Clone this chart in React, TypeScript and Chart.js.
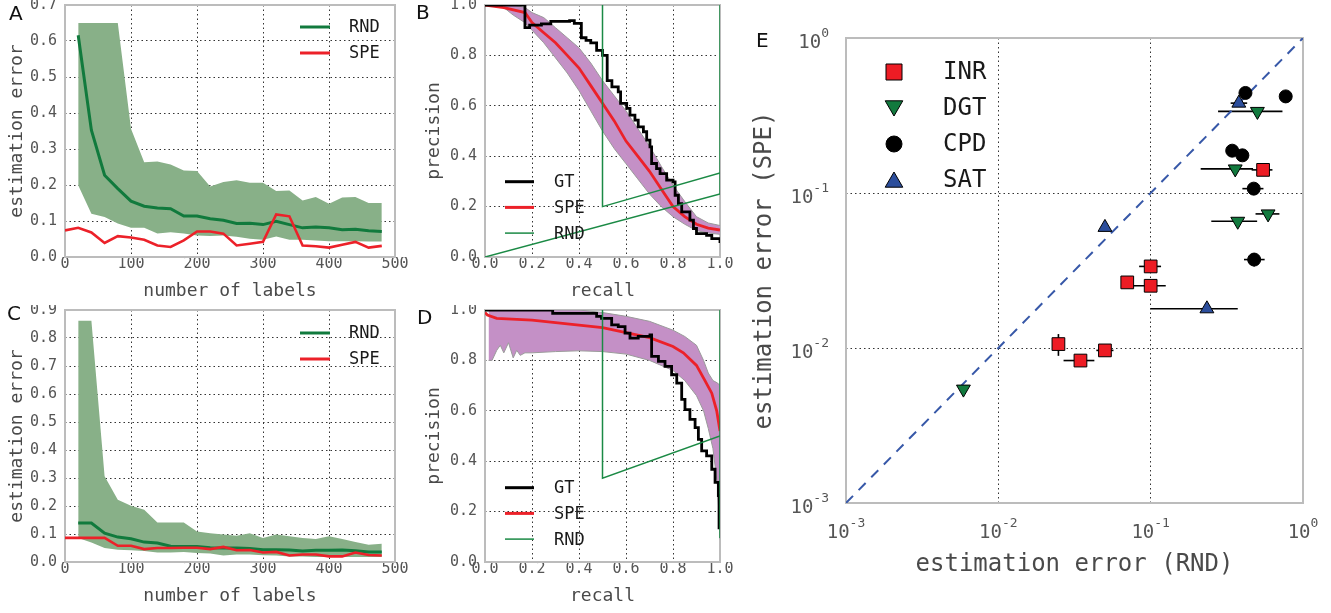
import React, { useEffect, useRef } from 'react';
import { Chart, registerables } from 'chart.js';

Chart.register(...registerables);

const MONO = '"DejaVu Sans Mono", "Liberation Mono", monospace';
const SANS = '"DejaVu Sans", "Open Sans", sans-serif';

const TICK_COLOR = '#555555';
const TITLE_COLOR = '#4a4a4a';
const GRID_COLOR = '#333333';
const FRAME_COLOR = '#bcbcbc';
const GREEN = '#117a3d';
const GREEN_BAND = '#88b088';
const RED = '#ec2129';
const PURPLE_BAND = '#c490c6';
const BAND_EDGE = '#9a9a9a';
const RND_THIN = '#1b8a45';
const MARK_RED = '#ed1c24';
const MARK_GREEN = '#127a3e';
const MARK_BLACK = '#000000';
const MARK_BLUE = '#2c4e9c';
const DIAG_BLUE = '#3758a8';

// ---------------- Panels A / C : estimation error vs number of labels ----------------
const N_X = [20, 40, 60, 80, 100, 120, 140, 160, 180, 200, 220, 240, 260, 280, 300, 320, 340, 360, 380, 400, 420, 440, 460, 480];
const N_X_SPE = [0, 20, 40, 60, 80, 100, 120, 140, 160, 180, 200, 220, 240, 260, 280, 300, 320, 340, 360, 380, 400, 420, 440, 460, 480];

const A_RND = [0.616, 0.352, 0.227, 0.19, 0.155, 0.141, 0.136, 0.134, 0.114, 0.114, 0.106, 0.102, 0.093, 0.094, 0.09, 0.099, 0.09, 0.081, 0.083, 0.081, 0.076, 0.077, 0.073, 0.071];
const A_RND_HI = [0.65, 0.65, 0.65, 0.65, 0.356, 0.263, 0.265, 0.257, 0.24, 0.239, 0.196, 0.208, 0.213, 0.206, 0.206, 0.183, 0.185, 0.157, 0.167, 0.148, 0.165, 0.167, 0.15, 0.15];
const A_RND_LO = [0.199, 0.12, 0.111, 0.093, 0.081, 0.081, 0.065, 0.069, 0.065, 0.06, 0.058, 0.06, 0.056, 0.051, 0.048, 0.057, 0.048, 0.048, 0.046, 0.044, 0.044, 0.044, 0.043, 0.043];
const A_SPE = [0.074, 0.081, 0.068, 0.039, 0.058, 0.054, 0.048, 0.032, 0.028, 0.046, 0.071, 0.071, 0.065, 0.032, 0.037, 0.042, 0.118, 0.113, 0.032, 0.03, 0.026, 0.034, 0.042, 0.026, 0.031];

const C_RND = [0.139, 0.139, 0.103, 0.089, 0.083, 0.071, 0.068, 0.056, 0.055, 0.055, 0.051, 0.05, 0.05, 0.048, 0.044, 0.044, 0.043, 0.039, 0.042, 0.042, 0.043, 0.04, 0.036, 0.036];
const C_RND_HI = [0.862, 0.862, 0.306, 0.222, 0.201, 0.187, 0.141, 0.141, 0.141, 0.109, 0.103, 0.098, 0.094, 0.103, 0.086, 0.098, 0.092, 0.086, 0.082, 0.092, 0.082, 0.071, 0.062, 0.065];
const C_RND_LO = [0.086, 0.07, 0.05, 0.044, 0.042, 0.039, 0.034, 0.034, 0.036, 0.032, 0.03, 0.023, 0.027, 0.027, 0.024, 0.023, 0.02, 0.02, 0.018, 0.018, 0.018, 0.018, 0.018, 0.018];
const C_SPE = [0.086, 0.086, 0.086, 0.086, 0.058, 0.058, 0.046, 0.05, 0.05, 0.051, 0.051, 0.046, 0.054, 0.042, 0.043, 0.034, 0.036, 0.023, 0.027, 0.027, 0.02, 0.02, 0.034, 0.025, 0.023];

// ---------------- Panel B : precision / recall ----------------
const B_GT_R = [0, 0.17, 0.19, 0.24, 0.28, 0.36, 0.38, 0.41, 0.41, 0.43, 0.45, 0.475, 0.5, 0.52, 0.52, 0.54, 0.567, 0.577, 0.603, 0.617, 0.638, 0.652, 0.674, 0.688, 0.702, 0.709, 0.73, 0.745, 0.773, 0.8, 0.809, 0.823, 0.837, 0.872, 0.887, 0.9, 0.943, 0.965, 1.0];
const B_GT_P = [1.0, 0.91, 0.92, 0.925, 0.935, 0.938, 0.927, 0.9, 0.87, 0.86, 0.85, 0.82, 0.8, 0.8, 0.7, 0.675, 0.655, 0.61, 0.59, 0.563, 0.543, 0.516, 0.497, 0.464, 0.437, 0.371, 0.351, 0.331, 0.305, 0.298, 0.245, 0.212, 0.179, 0.146, 0.113, 0.093, 0.086, 0.073, 0.056];
const B_SPE_R = [0, 0.08, 0.17, 0.2, 0.25, 0.3, 0.35, 0.4, 0.45, 0.5, 0.55, 0.6, 0.65, 0.7, 0.75, 0.8, 0.85, 0.9, 0.95, 1.0];
const B_SPE_P = [1.0, 0.99, 0.97, 0.93, 0.89, 0.85, 0.8, 0.75, 0.68, 0.61, 0.54, 0.46, 0.4, 0.34, 0.27, 0.2, 0.16, 0.13, 0.115, 0.107];
const B_BAND_R = [0.08, 0.12, 0.17, 0.2, 0.25, 0.3, 0.35, 0.4, 0.45, 0.5, 0.55, 0.6, 0.65, 0.7, 0.75, 0.8, 0.85, 0.9, 0.95, 1.0];
const B_BAND_HI = [1.0, 1.0, 0.99, 0.97, 0.95, 0.91, 0.87, 0.83, 0.77, 0.7, 0.64, 0.58, 0.51, 0.44, 0.36, 0.285, 0.22, 0.16, 0.135, 0.125];
const B_BAND_LO = [0.99, 0.96, 0.93, 0.9, 0.85, 0.79, 0.73, 0.66, 0.58, 0.5, 0.43, 0.37, 0.31, 0.25, 0.2, 0.16, 0.13, 0.105, 0.095, 0.09];
const B_RND1_R = [0, 1.0];
const B_RND1_P = [0, 0.25];
const B_RND2_R = [0.5, 0.5, 1.0];
const B_RND2_P = [1.0, 0.2, 0.333];
const B_RND3_R = [1.0, 1.0];
const B_RND3_P = [1.0, 0.25];

// ---------------- Panel D : precision / recall ----------------
const D_GT_R = [0, 0.288, 0.475, 0.496, 0.525, 0.539, 0.567, 0.596, 0.617, 0.652, 0.702, 0.709, 0.738, 0.766, 0.794, 0.816, 0.837, 0.851, 0.872, 0.894, 0.908, 0.922, 0.943, 0.965, 0.979, 0.993, 0.996, 0.996];
const D_GT_P = [1.0, 0.987, 0.975, 0.967, 0.967, 0.941, 0.934, 0.908, 0.888, 0.895, 0.901, 0.816, 0.796, 0.776, 0.743, 0.71, 0.645, 0.605, 0.566, 0.533, 0.487, 0.441, 0.421, 0.368, 0.316, 0.263, 0.145, 0.13];
const D_SPE_R = [0, 0.01, 0.05, 0.2, 0.4, 0.5, 0.6, 0.7, 0.8, 0.844, 0.9, 0.936, 0.965, 0.986, 1.0];
const D_SPE_P = [0.99, 0.98, 0.967, 0.96, 0.94, 0.93, 0.91, 0.89, 0.855, 0.83, 0.78, 0.72, 0.67, 0.6, 0.52];
const D_BAND_R = [0.015, 0.03, 0.05, 0.065, 0.08, 0.1, 0.12, 0.135, 0.15, 0.17, 0.2, 0.3, 0.4, 0.5, 0.6, 0.7, 0.8, 0.85, 0.9, 0.93, 0.95, 0.97, 0.99, 1.0];
const D_BAND_HI = [1.0, 1.0, 1.0, 1.0, 1.0, 1.0, 1.0, 1.0, 1.0, 1.0, 1.0, 1.0, 1.0, 0.99, 0.975, 0.955, 0.92, 0.895, 0.86, 0.8, 0.75, 0.72, 0.71, 0.7];
const D_BAND_LO = [0.8, 0.8, 0.84, 0.86, 0.83, 0.87, 0.81, 0.84, 0.82, 0.83, 0.83, 0.835, 0.838, 0.835, 0.825, 0.8, 0.76, 0.72, 0.66, 0.6, 0.53, 0.45, 0.3, 0.09];
const D_RND1_R = [0.5, 0.5, 1.0];
const D_RND1_P = [1.0, 0.333, 0.5];
const D_RND2_R = [1.0, 1.0];
const D_RND2_P = [1.0, 0.095];

// ---------------- Panel E : estimation error SPE vs RND ----------------
const E_TICKS = [0.001, 0.01, 0.1, 1];
const E_TICK_BASE = ['10', '10', '10', '10'];
const E_TICK_EXP = ['-3', '-2', '-1', '0'];

const INR_X = [0.547, 0.1, 0.0702, 0.1, 0.0248, 0.0346, 0.0501];
const INR_Y = [0.141, 0.0336, 0.0265, 0.0252, 0.0106, 0.0083, 0.00965];
const INR_XLO = [0.46, 0.084, null, 0.0756, null, 0.0268, 0.044];
const INR_XHI = [0.63, 0.117, null, 0.1256, null, 0.0427, 0.057];
const INR_YLO = [null, 0.0312, null, null, 0.0089, null, null];
const INR_YHI = [null, 0.0362, null, null, 0.0123, null, null];

const DGT_X = [0.502, 0.359, 0.59, 0.373, 0.0059];
const DGT_Y = [0.336, 0.143, 0.0733, 0.0657, 0.00543];
const DGT_XLO = [0.277, 0.213, 0.488, 0.25, null];
const DGT_XHI = [0.733, 0.47, 0.7, 0.5, null];

const CPD_X = [0.419, 0.77, 0.343, 0.4, 0.475, 0.478];
const CPD_Y = [0.442, 0.42, 0.1875, 0.175, 0.1067, 0.0372];
const CPD_XLO = [null, null, null, null, 0.4, 0.41];
const CPD_XHI = [null, null, null, null, 0.55, 0.56];
const CPD_YLO = [null, null, null, null, null, 0.0336];
const CPD_YHI = [null, null, null, null, null, 0.041];

const SAT_X = [0.379, 0.0501, 0.234];
const SAT_Y = [0.38, 0.06, 0.0179];
const SAT_XLO = [0.335, null, 0.1];
const SAT_XHI = [0.43, null, 0.373];

const DIAG_X = [0.001, 1];
const DIAG_Y = [0.001, 1];

// ---------------- helpers ----------------
const pts = (xs: number[], ys: number[]) => xs.map((x, i) => ({ x, y: ys[i] }));

const framePlugin = {
  id: 'frame',
  beforeDatasetsDraw(chart: any) {
    const { ctx, chartArea: a } = chart;
    ctx.save();
    ctx.strokeStyle = FRAME_COLOR;
    ctx.lineWidth = 2;
    ctx.strokeRect(a.left, a.top, a.right - a.left, a.bottom - a.top);
    ctx.restore();
  },
};

const errorBarPlugin = {
  id: 'errorBars',
  beforeDatasetsDraw(chart: any) {
    const { ctx } = chart;
    const xs = chart.scales.x;
    const ys = chart.scales.y;
    ctx.save();
    ctx.strokeStyle = '#000';
    ctx.lineWidth = 1.6;
    chart.data.datasets.forEach((ds: any) => {
      (ds.data as any[]).forEach((p: any, i: number) => {
        const px = xs.getPixelForValue(p.x);
        const py = ys.getPixelForValue(p.y);
        if (ds.xLo && ds.xLo[i] != null) {
          ctx.beginPath();
          ctx.moveTo(xs.getPixelForValue(ds.xLo[i]), py);
          ctx.lineTo(xs.getPixelForValue(ds.xHi[i]), py);
          ctx.stroke();
        }
        if (ds.yLo && ds.yLo[i] != null) {
          ctx.beginPath();
          ctx.moveTo(px, ys.getPixelForValue(ds.yLo[i]));
          ctx.lineTo(px, ys.getPixelForValue(ds.yHi[i]));
          ctx.stroke();
        }
      });
    });
    ctx.restore();
  },
};

// draws "10" with a raised exponent for the log axes of panel E
const supTickPlugin = {
  id: 'supTicks',
  afterDraw(chart: any) {
    const { ctx, chartArea: a } = chart;
    const xs = chart.scales.x;
    const ys = chart.scales.y;
    const baseFont = `19px ${MONO}`;
    const expFont = `13px ${MONO}`;
    ctx.save();
    ctx.fillStyle = TICK_COLOR;
    ctx.textBaseline = 'alphabetic';
    ctx.textAlign = 'left';
    E_TICKS.forEach((v, i) => {
      ctx.font = baseFont;
      const bw = ctx.measureText(E_TICK_BASE[i]).width;
      ctx.font = expFont;
      const ew = ctx.measureText(E_TICK_EXP[i]).width;
      // x axis
      const px = xs.getPixelForValue(v);
      const x0 = px - (bw + ew) / 2;
      ctx.font = baseFont;
      ctx.fillText(E_TICK_BASE[i], x0, a.bottom + 35);
      ctx.font = expFont;
      ctx.fillText(E_TICK_EXP[i], x0 + bw, a.bottom + 24);
      // y axis
      const py = ys.getPixelForValue(v);
      const xr = a.left - 17;
      ctx.font = expFont;
      ctx.fillText(E_TICK_EXP[i], xr - ew, py - 1);
      ctx.font = baseFont;
      ctx.fillText(E_TICK_BASE[i], xr - ew - bw, py + 10);
    });
    ctx.restore();
  },
};

function drawMarker(ctx: CanvasRenderingContext2D, kind: string, x: number, y: number, color: string, s: number) {
  ctx.save();
  ctx.fillStyle = color;
  ctx.strokeStyle = '#000';
  ctx.lineWidth = 1;
  ctx.beginPath();
  if (kind === 'square') {
    ctx.rect(x - s / 2, y - s / 2, s, s);
  } else if (kind === 'circle') {
    ctx.arc(x, y, s / 2, 0, Math.PI * 2);
  } else if (kind === 'tridown') {
    ctx.moveTo(x - s * 0.55, y - s * 0.45);
    ctx.lineTo(x + s * 0.55, y - s * 0.45);
    ctx.lineTo(x, y + s * 0.5);
    ctx.closePath();
  } else {
    ctx.moveTo(x - s * 0.55, y + s * 0.45);
    ctx.lineTo(x + s * 0.55, y + s * 0.45);
    ctx.lineTo(x, y - s * 0.5);
    ctx.closePath();
  }
  ctx.fill();
  ctx.stroke();
  ctx.restore();
}

const inLegendPlugin = {
  id: 'inLegend',
  afterDatasetsDraw(chart: any, _args: any, opts: any) {
    if (!opts || !opts.items) return;
    const { ctx, chartArea: a } = chart;
    ctx.save();
    ctx.font = opts.font;
    ctx.textBaseline = 'middle';
    ctx.textAlign = 'left';
    const items = opts.items as any[];
    for (let i = 0; i < items.length; i++) {
      const it = items[i];
      const y = a.top + opts.y0 + i * opts.dy;
      if (it.marker) {
        drawMarker(ctx, it.marker, a.left + opts.markX, y, it.color, opts.markSize);
      } else {
        ctx.strokeStyle = it.color;
        ctx.lineWidth = it.width;
        ctx.beginPath();
        ctx.moveTo(a.left + opts.lineX0, y);
        ctx.lineTo(a.left + opts.lineX1, y);
        ctx.stroke();
      }
      ctx.fillStyle = '#1a1a1a';
      ctx.fillText(it.label, a.left + opts.textX, y + 1);
    }
    ctx.restore();
  },
};

const edgeHidden = (min: number, max: number) => (c: any) => {
  const v = c.tick ? c.tick.value : NaN;
  return Math.abs(v - min) < 1e-9 || Math.abs(v - max) < 1e-9 ? 'rgba(0,0,0,0)' : GRID_COLOR;
};

function linearScales(p: any) {
  return {
    x: {
      type: 'linear',
      min: p.xMin,
      max: p.xMax,
      ticks: {
        stepSize: p.xStep,
        autoSkip: false,
        maxRotation: 0,
        padding: 0,
        color: TICK_COLOR,
        font: { family: MONO, size: 15, lineHeight: 1 },
        callback: (v: any) => Number(v).toFixed(p.xDigits),
      },
      grid: { color: edgeHidden(p.xMin, p.xMax), lineWidth: 1, drawTicks: false },
      border: { display: false, dash: [1.5, 3] },
      title: {
        display: true,
        text: p.xTitle,
        color: TITLE_COLOR,
        font: { family: MONO, size: 18 },
        padding: { top: 0, bottom: 0 },
      },
      afterFit(s: any) {
        s.height = 45;
        s.paddingLeft = 0;
        s.paddingRight = 0;
      },
    },
    y: {
      type: 'linear',
      min: p.yMin,
      max: p.yMax,
      ticks: {
        stepSize: p.yStep,
        autoSkip: false,
        padding: 8,
        color: TICK_COLOR,
        font: { family: MONO, size: 15, lineHeight: 1 },
        callback: (v: any) => Number(v).toFixed(1),
      },
      grid: { color: edgeHidden(p.yMin, p.yMax), lineWidth: 1, drawTicks: false },
      border: { display: false, dash: [1.5, 3] },
      title: {
        display: true,
        text: p.yTitle,
        color: TITLE_COLOR,
        font: { family: MONO, size: 18 },
        padding: { top: p.yTitlePad, bottom: 0 },
      },
      afterFit(s: any) {
        s.width = p.yWidth;
        s.paddingTop = 0;
        s.paddingBottom = 0;
      },
    },
  };
}

function baseOptions(scales: any, legend: any) {
  return {
    responsive: true,
    maintainAspectRatio: false,
    animation: false,
    events: [],
    layout: { padding: { top: 5, right: 15, left: 0, bottom: 0 } },
    plugins: { legend: { display: false }, tooltip: { enabled: false }, inLegend: legend },
    scales,
  };
}

const line = (data: any, color: string, width: number, extra: any = {}) => ({
  data,
  borderColor: color,
  borderWidth: width,
  pointRadius: 0,
  fill: false,
  tension: 0,
  ...extra,
});

function countConfig(rnd: number[], hi: number[], lo: number[], spe: number[], yMax: number, legendY0: number) {
  return {
    type: 'line',
    data: {
      datasets: [
        line(pts(N_X_SPE, spe), RED, 2.6),
        line(pts(N_X, rnd), GREEN, 3),
        line(pts(N_X, lo), 'rgba(0,0,0,0)', 0.01),
        line(pts(N_X, hi), 'rgba(0,0,0,0)', 0.01, { fill: '-1', backgroundColor: GREEN_BAND }),
      ],
    },
    options: baseOptions(
      linearScales({
        xMin: 0, xMax: 500, xStep: 100, xDigits: 0,
        yMin: 0, yMax: yMax, yStep: 0.1,
        xTitle: 'number of labels', yTitle: 'estimation error',
        yWidth: 65, yTitlePad: 7,
      }),
      {
        font: `17px ${MONO}`,
        y0: legendY0, dy: 26, lineX0: 235, lineX1: 265, textX: 284,
        items: [
          { label: 'RND', color: GREEN, width: 3 },
          { label: 'SPE', color: RED, width: 3 },
        ],
      }
    ),
    plugins: [framePlugin, inLegendPlugin],
  };
}

function prConfig(gt: any, spe: any, bandHi: any, bandLo: any, rndLines: any[], legendY0: number) {
  return {
    type: 'line',
    data: {
      datasets: [
        ...rndLines.map((d) => line(d, RND_THIN, 1.5)),
        line(gt, '#000', 2.8, { stepped: 'before' }),
        line(spe, RED, 2.8),
        line(bandLo, BAND_EDGE, 1),
        line(bandHi, BAND_EDGE, 1, { fill: '-1', backgroundColor: PURPLE_BAND }),
      ],
    },
    options: baseOptions(
      linearScales({
        xMin: 0, xMax: 1, xStep: 0.2, xDigits: 1,
        yMin: 0, yMax: 1, yStep: 0.2,
        xTitle: 'recall', yTitle: 'precision',
        yWidth: 80, yTitlePad: 19,
      }),
      {
        font: `17px ${MONO}`,
        y0: legendY0, dy: 25.7, lineX0: 20, lineX1: 49, textX: 69,
        items: [
          { label: 'GT', color: '#000', width: 3 },
          { label: 'SPE', color: RED, width: 3 },
          { label: 'RND', color: RND_THIN, width: 1.5 },
        ],
      }
    ),
    plugins: [framePlugin, inLegendPlugin],
  };
}

function configA() {
  return countConfig(A_RND, A_RND_HI, A_RND_LO, A_SPE, 0.7, 22);
}
function configC() {
  return countConfig(C_RND, C_RND_HI, C_RND_LO, C_SPE, 0.9, 23);
}
function configB() {
  return prConfig(
    pts(B_GT_R, B_GT_P),
    pts(B_SPE_R, B_SPE_P),
    pts(B_BAND_R, B_BAND_HI),
    pts(B_BAND_R, B_BAND_LO),
    [pts(B_RND1_R, B_RND1_P), pts(B_RND2_R, B_RND2_P), pts(B_RND3_R, B_RND3_P)],
    176.7
  );
}
function configD() {
  return prConfig(
    pts(D_GT_R, D_GT_P),
    pts(D_SPE_R, D_SPE_P),
    pts(D_BAND_R, D_BAND_HI),
    pts(D_BAND_R, D_BAND_LO),
    [pts(D_RND1_R, D_RND1_P), pts(D_RND2_R, D_RND2_P)],
    177.7
  );
}

function logAxis(title: string, isX: boolean) {
  return {
    type: 'logarithmic',
    min: 0.001,
    max: 1,
    afterBuildTicks(s: any) {
      s.ticks = E_TICKS.map((v) => ({ value: v }));
    },
    ticks: { display: false, autoSkip: false, maxRotation: 0 },
    grid: { color: edgeHidden(0.001, 1), lineWidth: 1, drawTicks: false },
    border: { display: false, dash: [1.5, 3] },
    title: {
      display: true,
      text: title,
      color: TITLE_COLOR,
      font: { family: MONO, size: 24 },
      padding: isX ? { top: 0, bottom: 0 } : { top: 10.6, bottom: 0 },
    },
    afterFit(s: any) {
      if (isX) {
        s.height = 76;
        s.paddingLeft = 0;
        s.paddingRight = 0;
      } else {
        s.width = 106;
        s.paddingTop = 0;
        s.paddingBottom = 0;
      }
    },
  };
}

const marker = (data: any, style: string, radius: number, color: string, rot: number, extra: any) => ({
  data,
  pointStyle: style,
  pointRadius: radius,
  pointRotation: rot,
  backgroundColor: color,
  borderColor: '#000',
  borderWidth: 1,
  ...extra,
});

function configE() {
  return {
    type: 'scatter',
    data: {
      datasets: [
        marker(pts(INR_X, INR_Y), 'rect', 9, MARK_RED, 0, { xLo: INR_XLO, xHi: INR_XHI, yLo: INR_YLO, yHi: INR_YHI }),
        marker(pts(DGT_X, DGT_Y), 'triangle', 8, MARK_GREEN, 180, { xLo: DGT_XLO, xHi: DGT_XHI }),
        marker(pts(CPD_X, CPD_Y), 'circle', 6.5, MARK_BLACK, 0, { xLo: CPD_XLO, xHi: CPD_XHI, yLo: CPD_YLO, yHi: CPD_YHI }),
        marker(pts(SAT_X, SAT_Y), 'triangle', 8, MARK_BLUE, 0, { xLo: SAT_XLO, xHi: SAT_XHI }),
        {
          type: 'line',
          data: pts(DIAG_X, DIAG_Y),
          showLine: true,
          borderColor: DIAG_BLUE,
          borderWidth: 2,
          borderDash: [10, 8],
          pointRadius: 0,
          fill: false,
        },
      ],
    },
    options: {
      responsive: true,
      maintainAspectRatio: false,
      animation: false,
      events: [],
      layout: { padding: { top: 20, right: 20, left: 0, bottom: 0 } },
      plugins: {
        legend: { display: false },
        tooltip: { enabled: false },
        inLegend: {
          font: `24px ${MONO}`,
          y0: 34, dy: 36, markX: 48, markSize: 16, textX: 97,
          items: [
            { label: 'INR', color: MARK_RED, marker: 'square' },
            { label: 'DGT', color: MARK_GREEN, marker: 'tridown' },
            { label: 'CPD', color: MARK_BLACK, marker: 'circle' },
            { label: 'SAT', color: MARK_BLUE, marker: 'triup' },
          ],
        },
      },
      scales: {
        x: logAxis('estimation error (RND)', true),
        y: logAxis('estimation error (SPE)', false),
      },
    },
    plugins: [framePlugin, errorBarPlugin, inLegendPlugin, supTickPlugin],
  };
}

function Panel(props: { left: number; top: number; width: number; height: number; make: () => any }) {
  const ref = useRef<HTMLCanvasElement | null>(null);
  useEffect(() => {
    const chart = new Chart(ref.current as HTMLCanvasElement, props.make() as any);
    return () => chart.destroy();
  }, []);
  return (
    <div style={{ position: 'absolute', left: props.left, top: props.top, width: props.width, height: props.height }}>
      <canvas ref={ref} style={{ display: 'block' }} />
    </div>
  );
}

function Letter(props: { text: string; left: number; top: number }) {
  return (
    <div
      style={{
        position: 'absolute',
        left: props.left,
        top: props.top,
        fontFamily: SANS,
        fontSize: 20,
        fontWeight: 500,
        lineHeight: '20px',
        color: '#111',
      }}
    >
      {props.text}
    </div>
  );
}

export default function App() {
  return (
    <div style={{ position: 'absolute', left: 0, top: 0, width: 1331, height: 613, background: '#fff', overflow: 'hidden' }}>
      <Panel left={0} top={0} width={410} height={302} make={configA} />
      <Panel left={405} top={0} width={330} height={302} make={configB} />
      <Panel left={0} top={305} width={410} height={302} make={configC} />
      <Panel left={405} top={305} width={330} height={302} make={configD} />
      <Panel left={740} top={18} width={583} height={561} make={configE} />
      <Letter text="A" left={9} top={3} />
      <Letter text="B" left={416} top={2} />
      <Letter text="C" left={7} top={303} />
      <Letter text="D" left={417} top={307} />
      <Letter text="E" left={756} top={30} />
    </div>
  );
}
